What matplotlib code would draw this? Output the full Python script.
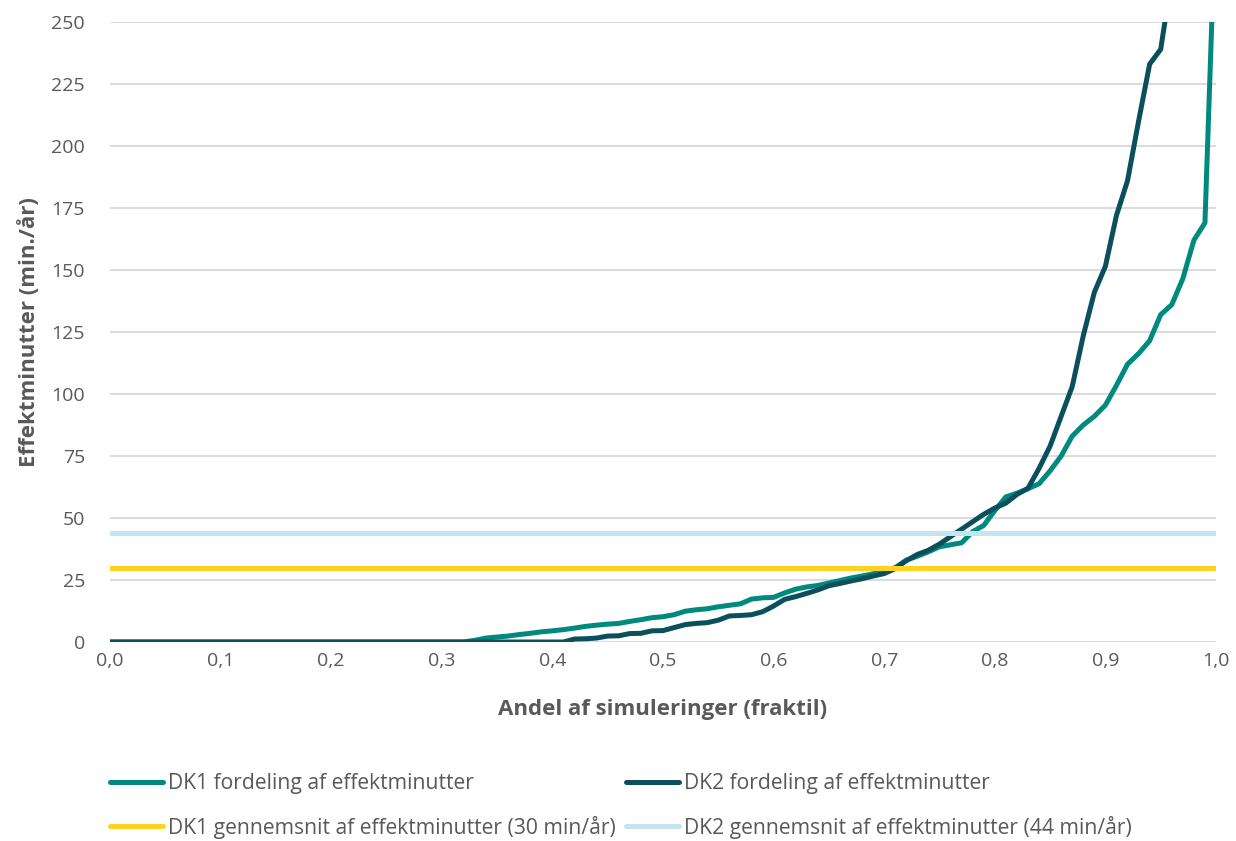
import numpy as np
import matplotlib
matplotlib.use("Agg")
import matplotlib.pyplot as plt

# Fraktiler 0,00 ... 1,00 (trin 0,01)
fraktil = [i / 100 for i in range(101)]

# DK1 fordeling af effektminutter (min./år)
dk1 = [0.0] * 33 + [
    0.7, 1.6, 2.0, 2.4, 3.0, 3.5, 4.1, 4.5, 5.0, 5.6,      # 0,33-0,42
    6.3, 6.8, 7.2, 7.5, 8.3, 9.0, 9.8, 10.2, 11.0, 12.4,   # 0,43-0,52
    13.0, 13.4, 14.2, 14.8, 15.4, 17.3, 17.8, 18.0, 19.8, 21.3,  # 0,53-0,62
    22.2, 22.8, 23.8, 24.8, 25.8, 26.6, 27.5, 28.6, 30.0, 33.0,  # 0,63-0,72
    34.6, 36.4, 38.4, 39.2, 40.0, 44.5, 47.0, 53.0, 58.5, 60.0,  # 0,73-0,82
    61.8, 63.8, 69.0, 75.0, 83.0, 87.5, 91.0, 95.5, 103.5, 112.0,  # 0,83-0,92
    116.3, 121.5, 132.0, 136.0, 146.5, 162.0, 169.0, 300.0,       # 0,93-1,00
]

# DK2 fordeling af effektminutter (min./år)
dk2 = [0.0] * 42 + [
    1.2, 1.3, 1.6, 2.4, 2.5, 3.4, 3.5, 4.5, 4.6, 5.8,      # 0,42-0,51
    7.0, 7.5, 7.8, 8.8, 10.5, 10.7, 11.0, 12.2, 14.5, 17.2,  # 0,52-0,61
    18.3, 19.6, 21.0, 22.7, 23.6, 24.6, 25.5, 26.6, 27.6, 29.6,  # 0,62-0,71
    32.8, 35.3, 37.0, 39.5, 42.5, 45.5, 48.5, 51.5, 54.0, 56.0,  # 0,72-0,81
    59.5, 62.0, 70.0, 79.0, 91.0, 103.0, 123.5, 141.0, 151.5, 172.0,  # 0,82-0,91
    186.0, 210.0, 233.0, 239.0, 268.0, 300.0, 340.0, 400.0, 500.0,  # 0,92-1,00
]

dk1_gns = 30  # min/år
dk2_gns = 44  # min/år

labels = [
    "DK1 fordeling af effektminutter",
    "DK2 fordeling af effektminutter",
    "DK1 gennemsnit af effektminutter (30 min/år)",
    "DK2 gennemsnit af effektminutter (44 min/år)",
]
x_ticks = [0.0, 0.1, 0.2, 0.3, 0.4, 0.5, 0.6, 0.7, 0.8, 0.9, 1.0]
x_tick_labels = ["0,0", "0,1", "0,2", "0,3", "0,4", "0,5", "0,6", "0,7", "0,8", "0,9", "1,0"]
y_ticks = [0, 25, 50, 75, 100, 125, 150, 175, 200, 225, 250]

farver = ["#00897F", "#0B4F5C", "#FDD320", "#C4E4F0"]
tekst = "#595959"

plt.rcParams["font.family"] = ["Open Sans", "DejaVu Sans"]

fig = plt.figure(figsize=(12.36, 8.41), dpi=100)
ax = fig.add_axes([110 / 1236, 1 - 642 / 841, 1106 / 1236, 620 / 841])

lw = 3.6
h1, = ax.plot(fraktil, dk1, color=farver[0], lw=lw, solid_capstyle="round", solid_joinstyle="round")
h2, = ax.plot(fraktil, dk2, color=farver[1], lw=lw, solid_capstyle="round", solid_joinstyle="round")
h3, = ax.plot(fraktil, [dk1_gns] * len(fraktil), color=farver[2], lw=lw, solid_capstyle="round")
h4, = ax.plot(fraktil, [dk2_gns] * len(fraktil), color=farver[3], lw=lw, solid_capstyle="round")

ax.set_xlim(0, 1)
ax.set_ylim(0, 250)
ax.set_xticks(x_ticks)
ax.set_xticklabels(x_tick_labels)
ax.set_yticks(y_ticks)
ax.tick_params(axis="both", length=0, labelsize=14, labelcolor=tekst)
ax.tick_params(axis="y", pad=18)
ax.tick_params(axis="x", pad=7)
ax.grid(axis="y", color="#D9D9D9", lw=1.3, zorder=0)
ax.set_axisbelow(True)
for s in ax.spines.values():
    s.set_visible(False)

ax.set_ylabel("Effektminutter (min./år)", fontsize=16, fontweight="bold", color=tekst)
ax.yaxis.set_label_coords(-70 / 1106, 0.5)
ax.set_xlabel("Andel af simuleringer (fraktil)", fontsize=16, fontweight="bold", color=tekst)
ax.xaxis.set_label_coords(0.5, -57 / 620)

# kolonnevis udfyldning: DK1 i venstre kolonne, DK2 i højre
fig.legend([h1, h3, h2, h4], [labels[0], labels[2], labels[1], labels[3]],
           loc="upper left", bbox_to_anchor=(102 / 1236, 1 - 765 / 841), ncol=2,
           frameon=False, fontsize=15.2, labelcolor=tekst, handlelength=2.5,
           handletextpad=0.24, columnspacing=0.47, borderaxespad=0, labelspacing=1.0)

fig.savefig("out.png", dpi=100)
